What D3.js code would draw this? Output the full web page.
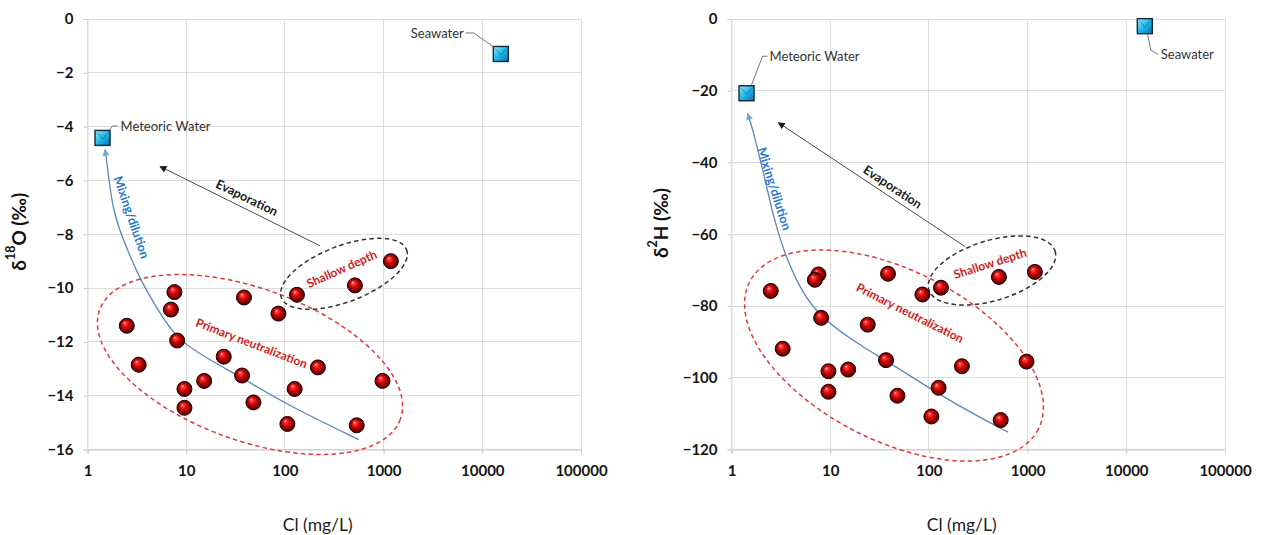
<!DOCTYPE html>
<html><head><meta charset="utf-8">
<script src="https://cdn.jsdelivr.net/npm/d3@7"></script>
<style>
body{margin:0;background:#fff;}
svg{display:block;font-family:Lato,"Open Sans","Liberation Sans",sans-serif;}
</style>
</head><body>
<svg id="c" width="1263" height="535"></svg>
<script>
// ---------- data ----------
const sampleCl = [2.5, 3.3, 7.6, 7.0, 8.1, 9.6, 9.6, 15.2, 24, 38.5, 36.8, 48, 86, 106, 132.5, 125.5, 216, 512, 534, 975, 1185];
const d18O = [-11.4, -12.85, -10.15, -10.8, -11.95, -13.75, -14.45, -13.45, -12.55, -10.35, -13.25, -14.25, -10.95, -15.05, -10.25, -13.75, -12.95, -9.9, -15.1, -13.45, -9.0];
const d2H = [-75.8, -91.9, -71.2, -72.7, -83.3, -98.2, -103.9, -97.7, -85.2, -71.0, -95.1, -105.0, -76.8, -110.8, -74.9, -102.8, -96.8, -71.9, -111.8, -95.5, -70.5];

const endmemberLabels = ["Meteoric Water", "Seawater"];
const endmemberCl = [1.42, 15400];
const endmemberD18O = [-4.42, -1.3];
const endmemberD2H = [-20.7, -2.0];

const xTickValues = [1, 10, 100, 1000, 10000, 100000];
const yTicksD18O = [0, -2, -4, -6, -8, -10, -12, -14, -16];
const yTicksD2H = [0, -20, -40, -60, -80, -100, -120];

// mixing/dilution curves
const mixClD18O = [1.51, 1.65, 1.81, 2.05, 2.31, 2.8, 3.4, 5.0, 8.1, 20, 37.7, 100, 560];
const mixD18O = [-4.85, -6.0, -7.0, -7.7, -8.2, -8.95, -9.65, -10.73, -11.95, -12.8, -13.35, -14.3, -15.63];
const mixClD2H = [1.46, 1.58, 1.68, 1.9, 2.2, 2.65, 3.35, 5.0, 8.0, 20, 36.5, 124.5, 300, 638];
const mixD2H = [-26.3, -29.5, -31.8, -38.0, -44.9, -55.0, -64.5, -75.6, -83.3, -91.0, -95.1, -104.5, -110.5, -115.2];

// evaporation arrows [fromCl, fromVal, toCl, toVal]
const evapD18O = [227, -8.43, 5.43, -5.48];
const evapD2H = [231, -63.4, 2.98, -28.9];

// annotation anchors (Cl, value)
const groupNames = ["Primary neutralization", "Shallow depth"];
const groupClD18O = [44.3, 397];
const groupValD18O = [-12.84, -9.47];
const groupClD2H = [44.3, 436];
const groupValD2H = [-93.8, -70.1];
const labelClD18O = [46, 376];
const labelValD18O = [-12.04, -9.28];
const labelClD2H = [64.4, 416];
const labelValD2H = [-81.9, -68.1];
const processNames = ["Mixing/dilution", "Evaporation"];
const processClD18O = [2.80, 41.3];
const processValD18O = [-7.37, -6.64];
const processClD2H = [2.72, 43];
const processValD2H = [-47.3, -46.8];

// ---------- drawing ----------
const svg = d3.select("#c");
const defs = svg.append("defs");

const sph = defs.append("radialGradient").attr("id", "sph")
  .attr("cx", "50%").attr("cy", "50%").attr("r", "50%").attr("fx", "35%").attr("fy", "30%");
[["0%", "#ffe4e4"], ["14%", "#ff4a4a"], ["45%", "#d60a0a"], ["80%", "#860000"], ["100%", "#360000"]]
  .forEach(s => sph.append("stop").attr("offset", s[0]).attr("stop-color", s[1]));

const sq = defs.append("linearGradient").attr("id", "sq")
  .attr("x1", "0").attr("y1", "0").attr("x2", "1").attr("y2", "1");
[["0%", "#9aeeff"], ["50%", "#1fb6e8"], ["100%", "#0a74ae"]]
  .forEach(s => sq.append("stop").attr("offset", s[0]).attr("stop-color", s[1]));

function marker(id, color, w, h) {
  defs.append("marker").attr("id", id)
    .attr("viewBox", "0 0 10 10").attr("refX", 9).attr("refY", 5)
    .attr("markerUnits", "userSpaceOnUse")
    .attr("markerWidth", w).attr("markerHeight", h)
    .attr("orient", "auto-start-reverse")
    .append("path").attr("d", "M0,0 L10,5 L0,10 Z").attr("fill", color);
}
marker("arrBlack", "#1a1a1a", 8, 7);
marker("arrBlue", "#6fa6dc", 8, 7);

function panel(cfg) {
  const x = d3.scaleLog().domain([1, 100000]).range([cfg.x0, cfg.x1]);
  const y = d3.scaleLinear().domain(cfg.yDomain).range([cfg.y1, cfg.y0]);
  const g = svg.append("g");

  // gridlines
  g.append("g").selectAll("line.v").data(xTickValues).join("line")
    .attr("x1", d => x(d)).attr("x2", d => x(d)).attr("y1", cfg.y0).attr("y2", cfg.y1)
    .attr("stroke", "#dcdcdc").attr("stroke-width", 1).attr("shape-rendering", "crispEdges");
  g.append("g").selectAll("line.h").data(cfg.yTicks).join("line")
    .attr("x1", cfg.x0).attr("x2", cfg.x1).attr("y1", d => y(d)).attr("y2", d => y(d))
    .attr("stroke", "#dcdcdc").attr("stroke-width", 1).attr("shape-rendering", "crispEdges");

  // axes
  const ax = g.append("g").attr("transform", `translate(0,${cfg.y1})`)
    .call(d3.axisBottom(x).tickValues(xTickValues).tickFormat(d3.format("d")).tickSize(4).tickPadding(12));
  const ay = g.append("g").attr("transform", `translate(${cfg.x0},0)`)
    .call(d3.axisLeft(y).tickValues(cfg.yTicks).tickFormat(d3.format("d")).tickSize(4).tickPadding(10));
  [ax, ay].forEach(a => {
    a.select(".domain").attr("stroke", "#c8c8c8");
    a.selectAll(".tick line").attr("stroke", "#c8c8c8");
    a.selectAll(".tick text").attr("fill", "#151515").attr("font-size", 15).attr("font-weight", 700)
      .attr("font-family", "Lato, 'Open Sans', sans-serif");
  });
  ay.select(".domain").attr("stroke", "#dcdcdc");

  // axis titles
  g.append("text").attr("x", (cfg.x0 + cfg.x1) / 2 - 16.5).attr("y", 531)
    .attr("text-anchor", "middle").attr("font-size", 17.5).attr("fill", "#1e1e1e").text("Cl (mg/L)");
  const yt = g.append("text")
    .attr("transform", `translate(${cfg.x0 - cfg.yTitleOff},${cfg.yTitleY}) rotate(-90)`)
    .attr("text-anchor", "middle").attr("dominant-baseline", "central")
    .attr("font-size", 19).attr("font-weight", 700).attr("fill", "#111");
  yt.append("tspan").text("δ");
  yt.append("tspan").attr("font-size", 12.5).attr("baseline-shift", "super").text(cfg.sup);
  yt.append("tspan").text(cfg.elem + " (‰)");

  // group ellipses
  const ellStyle = [
    {color: "#e0393e", a: cfg.ellA[0], b: cfg.ellB[0], rot: cfg.ellRot[0]},
    {color: "#333333", a: cfg.ellA[1], b: cfg.ellB[1], rot: cfg.ellRot[1]}
  ];
  groupNames.forEach((n, i) => {
    g.append("ellipse")
      .attr("transform", `translate(${x(cfg.groupCl[i])},${y(cfg.groupVal[i])}) rotate(${ellStyle[i].rot})`)
      .attr("rx", ellStyle[i].a).attr("ry", ellStyle[i].b)
      .attr("fill", "none").attr("stroke", ellStyle[i].color)
      .attr("stroke-width", 1.5).attr("stroke-dasharray", "4.5,3.2");
  });

  // evaporation arrow
  const ev = cfg.evap;
  g.append("line").attr("x1", x(ev[0])).attr("y1", y(ev[1])).attr("x2", x(ev[2])).attr("y2", y(ev[3]))
    .attr("stroke", "#4a4a4a").attr("stroke-width", 1).attr("marker-end", "url(#arrBlack)");

  // mixing curve
  const pts = cfg.mixCl.map((c, i) => [x(c), y(cfg.mixVal[i])]);
  g.append("path").attr("d", d3.line().curve(d3.curveBasis)(pts))
    .attr("fill", "none").attr("stroke", "#5b86ba").attr("stroke-width", 1.3)
    .attr("marker-start", "url(#arrBlue)");

  // group labels
  groupNames.forEach((n, i) => {
    g.append("text")
      .attr("transform", `translate(${x(cfg.labelCl[i])},${y(cfg.labelVal[i])}) rotate(${cfg.labelRot[i]})`)
      .attr("text-anchor", "middle").attr("dominant-baseline", "central")
      .attr("font-size", 12).attr("font-weight", 700).attr("fill", "#d01c1c").text(n);
  });
  // process labels
  const procColor = ["#2878cc", "#1a1a1a"];
  processNames.forEach((n, i) => {
    g.append("text")
      .attr("transform", `translate(${x(cfg.procCl[i])},${y(cfg.procVal[i])}) rotate(${cfg.procRot[i]})`)
      .attr("text-anchor", "middle").attr("dominant-baseline", "central")
      .attr("font-size", 12.5).attr("font-weight", 700).attr("fill", procColor[i]).text(n);
  });

  // sample spheres
  g.append("g").selectAll("circle").data(sampleCl).join("circle")
    .attr("cx", d => x(d)).attr("cy", (d, i) => y(cfg.values[i])).attr("r", 7.5)
    .attr("fill", "url(#sph)").attr("stroke", "#220000").attr("stroke-width", 1);

  // end-members
  endmemberLabels.forEach((lab, i) => {
    const cx = x(endmemberCl[i]), cy = y(cfg.endVals[i]);
    const L = cfg.leaders[i];
    g.append("path").attr("d", d3.line()(L.pts.map(p => [cx + p[0], cy + p[1]])))
      .attr("fill", "none").attr("stroke", "#7a7a7a").attr("stroke-width", 1);
    const s = 15;
    g.append("rect").attr("x", cx - s / 2).attr("y", cy - s / 2).attr("width", s).attr("height", s)
      .attr("fill", "url(#sq)").attr("stroke", "#13283a").attr("stroke-width", 1.4);
    g.append("path").attr("d", `M${cx - s / 2 + 2},${cy - s / 2 + 2} L${cx},${cy + 1} L${cx + s / 2 - 2},${cy - s / 2 + 2}`)
      .attr("fill", "none").attr("stroke", "#0c5f8f").attr("stroke-width", 0.8).attr("opacity", 0.7);
    g.append("text").attr("x", cx + L.text[0]).attr("y", cy + L.text[1])
      .attr("text-anchor", L.anchor).attr("dominant-baseline", "central")
      .attr("font-size", 13).attr("fill", "#333").text(lab);
  });
}

panel({
  x0: 87.5, x1: 581, y0: 19, y1: 449.5, yDomain: [-16, 0], yTicks: yTicksD18O,
  yTitleOff: 69.2, yTitleY: 231.7, sup: "18", elem: "O",
  values: d18O, endVals: endmemberD18O,
  mixCl: mixClD18O, mixVal: mixD18O, evap: evapD18O,
  groupCl: groupClD18O, groupVal: groupValD18O, ellA: [160, 67], ellB: [76, 28], ellRot: [20, -21],
  labelCl: labelClD18O, labelVal: labelValD18O, labelRot: [21, -24],
  procCl: processClD18O, procVal: processValD18O, procRot: [71, 26],
  leaders: [
    {pts: [[6, -6], [10, -12], [15, -12]], text: [18, -12], anchor: "start"},
    {pts: [[0, -2], [-27, -21], [-35, -21]], text: [-37, -21], anchor: "end"}
  ]
});

panel({
  x0: 731.5, x1: 1225, y0: 19, y1: 449.5, yDomain: [-120, 0], yTicks: yTicksD2H,
  yTitleOff: 71.2, yTitleY: 223, sup: "2", elem: "H",
  values: d2H, endVals: endmemberD2H,
  mixCl: mixClD2H, mixVal: mixD2H, evap: evapD2H,
  groupCl: groupClD2H, groupVal: groupValD2H, ellA: [162, 66], ellB: [85, 30], ellRot: [27, -17],
  labelCl: labelClD2H, labelVal: labelValD2H, labelRot: [26.6, -17.6],
  procCl: processClD2H, procVal: processValD2H, procRot: [72.5, 33.5],
  leaders: [
    {pts: [[3, -3], [16, -37], [21, -37]], text: [23, -37], anchor: "start"},
    {pts: [[2, 4], [6, 24], [13, 28]], text: [16, 28], anchor: "start"}
  ]
});
</script>
</body></html>
